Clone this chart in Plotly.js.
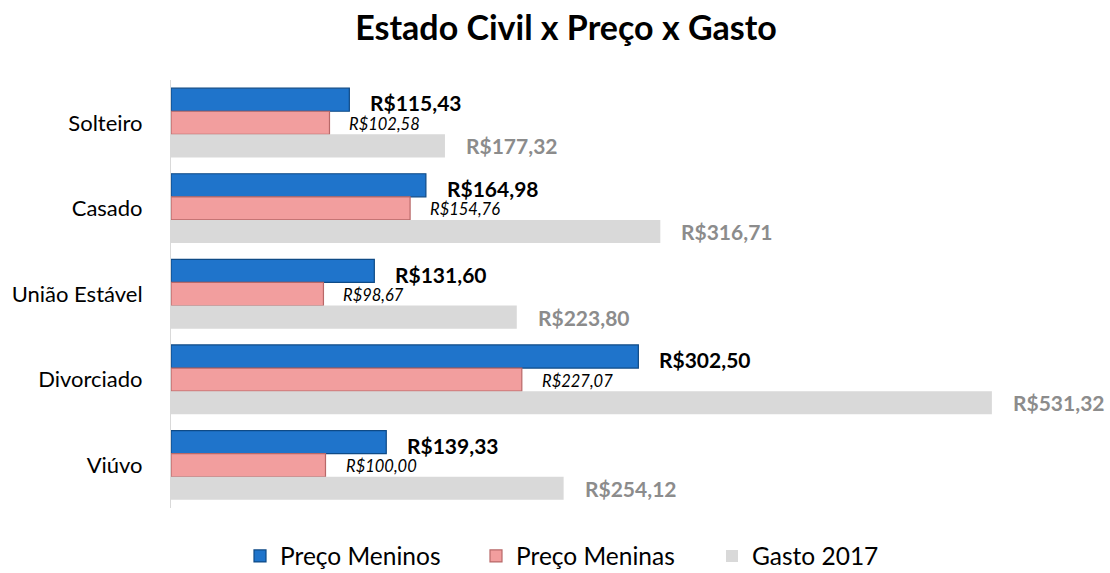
<!DOCTYPE html>
<html>
<head>
<meta charset="utf-8">
<script src="https://cdn.plot.ly/plotly-3.0.1.min.js"></script>
<style>html,body{margin:0;padding:0;background:#fff;}#chart{width:1110px;height:573px;}</style>
</head>
<body>
<div id="chart"></div>
<script>
const categories = ['Solteiro', 'Casado', 'União Estável', 'Divorciado', 'Viúvo'];
const precoMeninos = [115.43, 164.98, 131.60, 302.50, 139.33];
const precoMeninas = [102.58, 154.76, 98.67, 227.07, 100.00];
const gasto2017 = [177.32, 316.71, 223.80, 531.32, 254.12];
const seriesNames = ['Preço Meninos', 'Preço Meninas', 'Gasto 2017'];

const FONT = 'Lato, "Open Sans", sans-serif';
function brl(v) { return 'R$' + v.toFixed(2).replace('.', ','); }

const traces = [
  {type:'bar', orientation:'h', name:seriesNames[0], y:categories, x:precoMeninos,
   marker:{color:'#1F74CB', line:{color:'#0E4A86', width:1.2}}, hoverinfo:'x'},
  {type:'bar', orientation:'h', name:seriesNames[1], y:categories, x:precoMeninas,
   marker:{color:'#F29E9E', line:{color:'#B86868', width:1.2}}, hoverinfo:'x'},
  {type:'bar', orientation:'h', name:seriesNames[2], y:categories, x:gasto2017,
   marker:{color:'#D9D9D9', line:{width:0}}, hoverinfo:'x'}
];

const annotations = [];
categories.forEach((c, i) => {
  annotations.push({x:precoMeninos[i], y:c, xref:'x', yref:'y', text:brl(precoMeninos[i]), showarrow:false,
    xanchor:'left', yanchor:'middle', xshift:19, yshift:20, font:{family:FONT, size:21, color:'#000000', weight:'bold'}});
  annotations.push({x:precoMeninas[i], y:c, xref:'x', yref:'y', text:'<i>'+brl(precoMeninas[i])+'</i>', showarrow:false,
    xanchor:'left', yanchor:'middle', xshift:18, yshift:-1, font:{family:FONT, size:16.5, color:'#000000'}});
  annotations.push({x:gasto2017[i], y:c, xref:'x', yref:'y', text:brl(gasto2017[i]), showarrow:false,
    xanchor:'left', yanchor:'middle', xshift:19, yshift:-23, font:{family:FONT, size:21, color:'#8C8C8C', weight:'bold'}});
});

const layout = {
  width:1110, height:573,
  margin:{l:171, r:12, t:80, b:65},
  paper_bgcolor:'#ffffff', plot_bgcolor:'#ffffff',
  font:{family:FONT, color:'#000000'},
  title:{text:'<b>Estado Civil x Preço x Gasto</b>', x:566/1110, xanchor:'center', xref:'container', yref:'container',
    y:1-28/573, yanchor:'middle', font:{family:FONT, size:34, color:'#000000'}},
  barmode:'group', bargap:0.19, bargroupgap:0,
  xaxis:{range:[0, 600], visible:false, fixedrange:true},
  yaxis:{autorange:'reversed', showline:true, linecolor:'#D9D9D9', linewidth:1, ticks:'', showgrid:false,
    tickfont:{family:FONT, size:22, color:'#000000'}, ticklabelstandoff:23},
  showlegend:true,
  legend:{orientation:'h', xref:'container', yref:'container', x:240/1110, xanchor:'left', y:(573-556)/573, yanchor:'middle',
    font:{family:FONT, size:24.5, color:'#000000'}, entrywidth:191, entrywidthmode:'pixels', traceorder:'normal'},
  annotations:annotations
};

Plotly.newPlot('chart', traces, layout, {displayModeBar:false, staticPlot:true});
</script>
</body>
</html>
